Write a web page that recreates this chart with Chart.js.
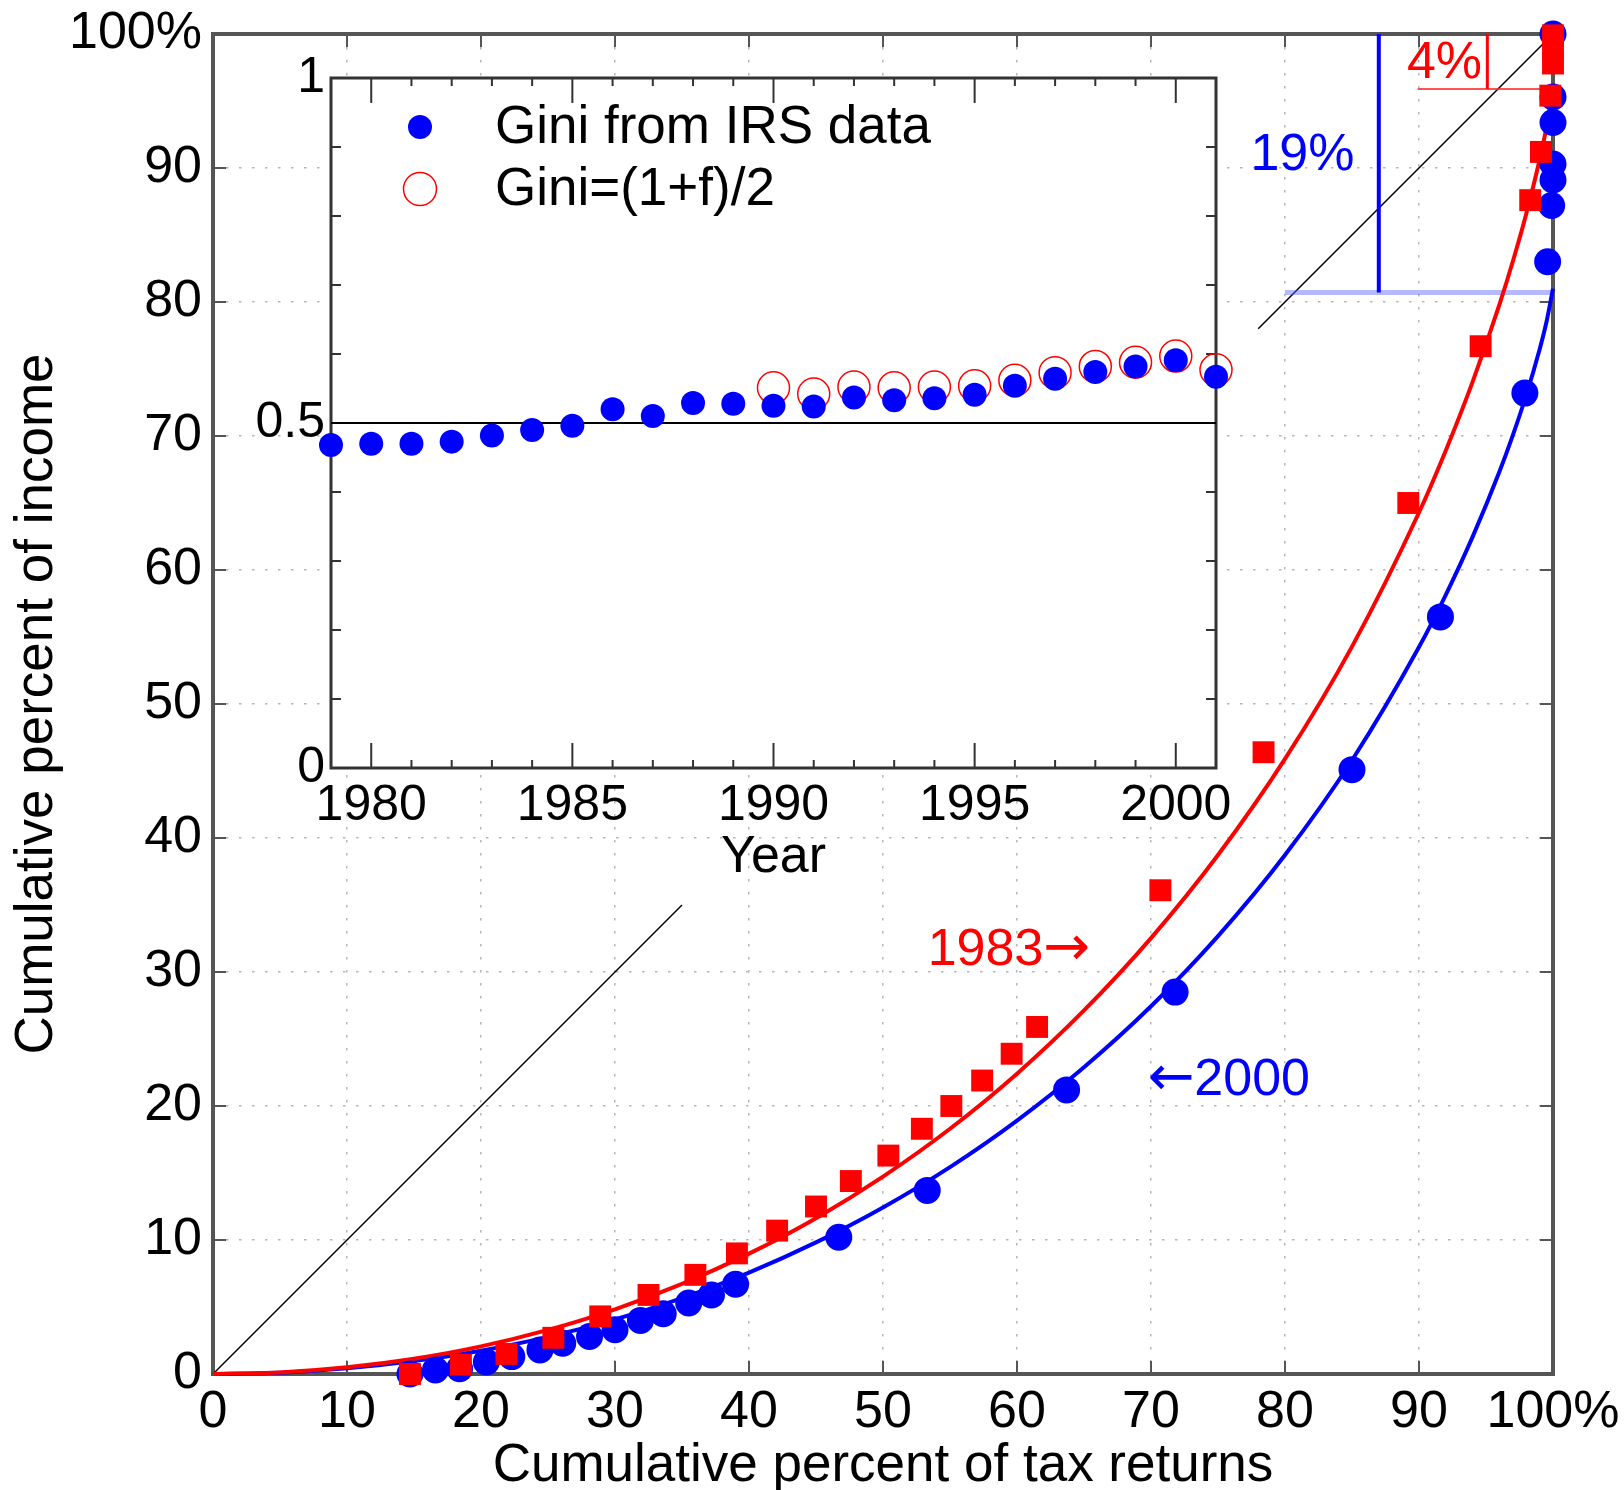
<!DOCTYPE html>
<html>
<head>
<meta charset="utf-8">
<script src="https://cdn.jsdelivr.net/npm/chart.js@4.4.1/dist/chart.umd.min.js"></script>
<style>
  body { margin: 0; background: #fff; }
  #wrap { position: relative; width: 1624px; height: 1490px; }
  #mainChart { position: absolute; left: 0; top: 0; }
  #insetChart { position: absolute; left: 230px; top: 40px; }
</style>
</head>
<body>
<div id="wrap">
  <canvas id="mainChart" width="1624" height="1490"></canvas>
  <canvas id="insetChart" width="1030" height="860"></canvas>
</div>
<script>
// Lorenz curve points, cumulative percent of tax returns / of income
const irs2000X = [14.7, 16.6, 18.4, 20.4, 22.3, 24.4, 26.1, 28.1, 30.0, 31.9, 33.6, 35.5, 37.2, 39.0,
                  46.7, 53.3, 63.7, 71.8, 85.0, 91.6, 97.9, 99.6, 99.9, 100, 100, 100, 100, 100];
const irs2000Y = [0.0, 0.3, 0.4, 0.9, 1.3, 1.8, 2.3, 2.8, 3.3, 4.0, 4.5, 5.3, 5.9, 6.7,
                  10.2, 13.7, 21.2, 28.5, 45.1, 56.5, 73.2, 83.0, 87.2, 89.1, 90.3, 93.4, 95.3, 100];

const irs1983X = [14.7, 18.5, 21.9, 25.4, 28.9, 32.5, 36.0, 39.1, 42.1, 45.0, 47.6, 50.4, 52.9, 55.1,
                  57.4, 59.6, 61.5, 70.7, 78.4, 89.2, 94.6, 98.3, 99.1, 99.8, 100, 100, 100];
const irs1983Y = [0.0, 0.7, 1.5, 2.7, 4.3, 5.9, 7.4, 9.0, 10.7, 12.5, 14.4, 16.3, 18.3, 20.0,
                  21.9, 23.9, 25.9, 36.1, 46.4, 65.0, 76.7, 87.6, 91.2, 95.4, 97.8, 98.9, 99.9];

// fitted curves
const fitX = [0, 5, 10, 15, 20, 25, 30, 35, 40, 45, 50, 55, 60, 65, 70, 75, 80, 85, 90, 92, 94, 96, 97, 98, 99, 99.5, 100];
const fit2000Y = [0, 0.1, 0.42, 0.96, 1.74, 2.77, 4.08, 5.67, 7.57, 9.82, 12.43, 15.44, 18.91, 22.89, 27.44,
                  32.68, 38.73, 45.8, 54.25, 58.15, 62.47, 67.33, 70.05, 73.04, 76.46, 78.45, 81.0];
const fit1983Y = [0, 0.12, 0.5, 1.14, 2.06, 3.29, 4.83, 6.72, 8.98, 11.63, 14.73, 18.3, 22.41, 27.13, 32.53,
                  38.73, 45.9, 54.28, 64.29, 68.92, 74.04, 79.8, 83.02, 86.57, 90.62, 92.98, 96.0];

// equality diagonal, shown in two pieces
const diagLow = [0, 35];
const diagHigh = [78, 100];

// gap markers at the top: 19% (2000) and 4% (1983)
const gap2000X = [87.0, 87.0];
const gap2000Y = [80.7, 100];
const base2000X = [80, 100];
const base2000Y = [80.7, 80.7];
const gap1983X = [95.1, 95.1];
const gap1983Y = [95.9, 100];
const base1983X = [89.9, 100];
const base1983Y = [95.9, 95.9];

// inset: Gini coefficient by year
const giniYears = [1979, 1980, 1981, 1982, 1983, 1984, 1985, 1986, 1987, 1988, 1989, 1990,
                   1991, 1992, 1993, 1994, 1995, 1996, 1997, 1998, 1999, 2000, 2001];
const giniIrs = [0.468, 0.470, 0.470, 0.473, 0.482, 0.490, 0.496, 0.520, 0.510, 0.529, 0.528, 0.525,
                 0.524, 0.537, 0.533, 0.536, 0.541, 0.554, 0.564, 0.574, 0.582, 0.591, 0.567];
const modelYears = [1990, 1991, 1992, 1993, 1994, 1995, 1996, 1997, 1998, 1999, 2000, 2001];
const giniModel = [0.551, 0.542, 0.552, 0.551, 0.552, 0.554, 0.562, 0.573, 0.582, 0.588, 0.597, 0.577];
const halfLineYears = [1979, 2001];
const halfLineValue = [0.5, 0.5];

const FONT = "'Liberation Sans', Arial, Helvetica, sans-serif";
const ARROW_FONT = "'DejaVu Sans', sans-serif";

function pts(xs, ys) {
    return xs.map((x, i) => ({ x: x, y: ys[i] }));
}

function lineSet(xs, ys, color, width, order) {
    return {
        data: pts(xs, ys), showLine: true, pointRadius: 0,
        borderColor: color, borderWidth: width, order: order, clip: false
    };
}

// no extra room for overhanging end labels, the layout padding handles it
function noOverhang(s) {
    s.paddingTop = 0;
    s.paddingBottom = 0;
    s.paddingLeft = 0;
    s.paddingRight = 0;
}

// frame and inward ticks of the big plot
const mainFrame = {
    id: 'mainFrame',
    beforeDatasetsDraw(chart) {
        const { ctx, chartArea: a, scales: { x, y } } = chart;
        ctx.save();
        ctx.strokeStyle = '#555';
        ctx.lineWidth = 2;
        ctx.beginPath();
        x.ticks.forEach(t => {
            const px = x.getPixelForValue(t.value);
            ctx.moveTo(px, a.bottom); ctx.lineTo(px, a.bottom - 13);
            ctx.moveTo(px, a.top); ctx.lineTo(px, a.top + 13);
        });
        y.ticks.forEach(t => {
            const py = y.getPixelForValue(t.value);
            ctx.moveTo(a.left, py); ctx.lineTo(a.left + 13, py);
            ctx.moveTo(a.right, py); ctx.lineTo(a.right - 13, py);
        });
        ctx.stroke();
        ctx.lineWidth = 4;
        ctx.strokeRect(a.left, a.top, a.right - a.left, a.bottom - a.top);
        ctx.restore();
    }
};

// text notes written on the big plot; arrows come from DejaVu, which draws them longer
const notes = [
    { parts: ['19%'], x: 81.3, y: 90.9, color: '#0000ff' },
    { parts: ['4%'], x: 91.9, y: 97.8, color: '#ff0000' },
    { parts: ['1983', '\u2192'], x: 59.4, y: 31.6, color: '#ff0000' },
    { parts: ['\u2190', '2000'], x: 75.8, y: 21.9, color: '#0000ff' }
];

function partFont(p) {
    return p === '\u2192' || p === '\u2190' ? '56px ' + ARROW_FONT : '52px ' + FONT;
}

const mainNotes = {
    id: 'mainNotes',
    afterDatasetsDraw(chart) {
        const { ctx, scales: { x, y } } = chart;
        ctx.save();
        ctx.textAlign = 'left';
        ctx.textBaseline = 'middle';
        notes.forEach(n => {
            let total = 0;
            n.parts.forEach(p => { ctx.font = partFont(p); total += ctx.measureText(p).width; });
            let px = x.getPixelForValue(n.x) - total / 2;
            const py = y.getPixelForValue(n.y);
            ctx.fillStyle = n.color;
            n.parts.forEach(p => {
                ctx.font = partFont(p);
                ctx.fillText(p, px, py);
                px += ctx.measureText(p).width;
            });
        });
        ctx.restore();
    }
};

new Chart(document.getElementById('mainChart'), {
    type: 'scatter',
    data: {
        datasets: [
            lineSet(diagLow, diagLow, '#000', 1.5, 9),
            lineSet(diagHigh, diagHigh, '#000', 1.5, 9),
            lineSet(base2000X, base2000Y, 'rgba(90,100,255,0.45)', 5, 8),
            lineSet(gap2000X, gap2000Y, '#0000ff', 4, 7),
            lineSet(base1983X, base1983Y, 'rgba(255,40,40,0.8)', 2, 8),
            lineSet(gap1983X, gap1983Y, '#ff0000', 3, 7),
            Object.assign(lineSet(fitX, fit2000Y, '#0000ff', 4, 5), { cubicInterpolationMode: 'monotone' }),
            Object.assign(lineSet(fitX, fit1983Y, '#ff0000', 4, 4), { cubicInterpolationMode: 'monotone' }),
            {
                label: '2000', data: pts(irs2000X, irs2000Y), order: 2, clip: false,
                pointStyle: 'circle', pointRadius: 13.5, backgroundColor: '#0000ff', borderWidth: 0
            },
            {
                label: '1983', data: pts(irs1983X, irs1983Y), order: 1, clip: false,
                pointStyle: 'rect', pointRadius: 15.5, backgroundColor: '#ff0000', borderWidth: 0
            }
        ]
    },
    options: {
        responsive: false,
        devicePixelRatio: 1,
        animation: false,
        events: [],
        layout: { padding: { top: 34, right: 71, left: 0, bottom: 0 } },
        plugins: { legend: { display: false }, tooltip: { enabled: false } },
        scales: {
            x: {
                type: 'linear', min: 0, max: 100,
                afterFit: s => { s.height = 116; noOverhang(s); },
                ticks: {
                    stepSize: 10, autoSkip: false, maxRotation: 0, padding: 7, color: '#000',
                    font: { family: FONT, size: 52 },
                    callback: v => v === 100 ? '100%' : String(v)
                },
                grid: { color: '#b5b5b5', lineWidth: 1.5, drawTicks: false },
                border: { display: false, dash: [2.5, 10.5] },
                title: {
                    display: true, text: 'Cumulative percent of tax returns', color: '#000',
                    font: { family: FONT, size: 53, lineHeight: 0.88 }, padding: { top: 0, bottom: 0 }
                }
            },
            y: {
                type: 'linear', min: 0, max: 100,
                afterFit: s => { s.width = 213; noOverhang(s); },
                ticks: {
                    stepSize: 10, autoSkip: false, padding: 11, color: '#000',
                    font: { family: FONT, size: 52 },
                    callback: v => v === 100 ? '100%' : String(v)
                },
                grid: { color: '#b5b5b5', lineWidth: 1.5, drawTicks: false },
                border: { display: false, dash: [2.5, 10.5] },
                title: {
                    display: true, text: 'Cumulative percent of income', color: '#000',
                    font: { family: FONT, size: 53, lineHeight: 1 }, padding: { top: 11, bottom: 0 }
                }
            }
        }
    },
    plugins: [mainFrame, mainNotes]
});

// inset: white plot area, frame, ticks and legend
const insetFrame = {
    id: 'insetFrame',
    beforeDraw(chart) {
        const { ctx, chartArea: a } = chart;
        ctx.save();
        ctx.fillStyle = '#fff';
        ctx.fillRect(a.left, a.top, a.right - a.left, a.bottom - a.top);
        ctx.restore();
    },
    beforeDatasetsDraw(chart) {
        const { ctx, chartArea: a, scales: { x, y } } = chart;
        ctx.save();
        ctx.strokeStyle = '#333';
        ctx.lineWidth = 2;
        ctx.beginPath();
        x.ticks.forEach(t => {
            const px = x.getPixelForValue(t.value);
            const len = t.value % 5 === 0 ? 25 : 8;
            ctx.moveTo(px, a.bottom); ctx.lineTo(px, a.bottom - len);
            ctx.moveTo(px, a.top); ctx.lineTo(px, a.top + len);
        });
        y.ticks.forEach(t => {
            const py = y.getPixelForValue(t.value);
            ctx.moveTo(a.left, py); ctx.lineTo(a.left + 10, py);
            ctx.moveTo(a.right, py); ctx.lineTo(a.right - 10, py);
        });
        ctx.stroke();
        ctx.lineWidth = 3;
        ctx.strokeRect(a.left, a.top, a.right - a.left, a.bottom - a.top);
        ctx.restore();
    },
    afterDraw(chart) {
        const { ctx, chartArea: a } = chart;
        const sets = chart.data.datasets;
        ctx.save();
        // blue dot entry
        ctx.fillStyle = sets[2].backgroundColor;
        ctx.beginPath();
        ctx.arc(a.left + 89, a.top + 49, 12, 0, Math.PI * 2);
        ctx.fill();
        // red ring entry
        ctx.strokeStyle = sets[1].borderColor;
        ctx.lineWidth = 1.5;
        ctx.beginPath();
        ctx.arc(a.left + 89, a.top + 111, 16.5, 0, Math.PI * 2);
        ctx.stroke();
        ctx.fillStyle = '#000';
        ctx.font = '53px ' + FONT;
        ctx.textAlign = 'left';
        ctx.textBaseline = 'middle';
        ctx.fillText(sets[2].label, a.left + 164, a.top + 50);
        ctx.fillText(sets[1].label, a.left + 164, a.top + 112);
        ctx.restore();
    }
};

new Chart(document.getElementById('insetChart'), {
    type: 'scatter',
    data: {
        datasets: [
            lineSet(halfLineYears, halfLineValue, '#000', 2, 5),
            {
                label: 'Gini=(1+f)/2', data: pts(modelYears, giniModel), order: 2, clip: false,
                pointStyle: 'circle', pointRadius: 16, backgroundColor: 'rgba(0,0,0,0)',
                borderColor: '#ff0000', borderWidth: 1.5
            },
            {
                label: 'Gini from IRS data', data: pts(giniYears, giniIrs), order: 1, clip: false,
                pointStyle: 'circle', pointRadius: 12, backgroundColor: '#0000ff', borderWidth: 0
            }
        ]
    },
    options: {
        responsive: false,
        devicePixelRatio: 1,
        animation: false,
        events: [],
        layout: { padding: { top: 38, right: 44, left: 0, bottom: 0 } },
        plugins: { legend: { display: false }, tooltip: { enabled: false } },
        scales: {
            x: {
                type: 'linear', min: 1979, max: 2001,
                afterFit: s => { s.height = 132; noOverhang(s); },
                ticks: {
                    stepSize: 1, autoSkip: false, maxRotation: 0, padding: 8, color: '#000',
                    font: { family: FONT, size: 50 },
                    callback: v => v % 5 === 0 ? String(v) : ''
                },
                grid: { display: false, drawTicks: false },
                border: { display: false },
                title: {
                    display: true, text: 'Year', color: '#000',
                    font: { family: FONT, size: 52, lineHeight: 1 }, padding: { top: 0, bottom: 16 }
                }
            },
            y: {
                type: 'linear', min: 0, max: 1,
                afterFit: s => { s.width = 101; noOverhang(s); },
                ticks: {
                    stepSize: 0.1, autoSkip: false, padding: 6, color: '#000',
                    font: { family: FONT, size: 50 },
                    callback: v => {
                        if (Math.abs(v) < 1e-6) return '0';
                        if (Math.abs(v - 0.5) < 1e-6) return '0.5';
                        if (Math.abs(v - 1) < 1e-6) return '1';
                        return '';
                    }
                },
                grid: { display: false, drawTicks: false },
                border: { display: false }
            }
        }
    },
    plugins: [insetFrame]
});
</script>
</body>
</html>
